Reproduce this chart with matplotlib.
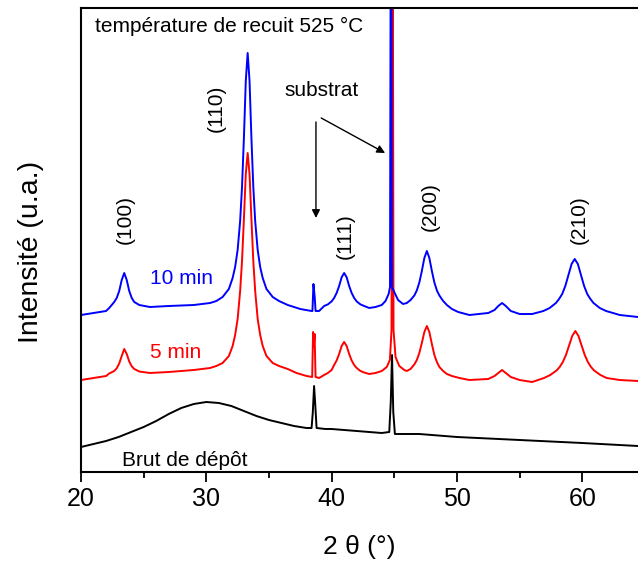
import matplotlib
matplotlib.use("Agg")
import matplotlib.pyplot as plt

plt.rcParams['font.family'] = ['Liberation Sans', 'DejaVu Sans']

# ---- data (2theta in degrees, intensity in arbitrary units) ----
x_brut = [20, 21, 22, 23, 24, 25, 26, 27, 28, 29, 30, 31, 32, 33, 34, 35, 36, 37, 38,
          38.4, 38.5, 38.6, 38.7, 38.8, 39.5, 40, 42, 44, 44.6, 44.72, 44.82, 44.92, 45.05,
          47, 50, 55, 60, 64.45]
y_brut = [25, 28, 31, 35, 40, 45, 51, 58, 64, 68, 70, 69, 66, 61, 56, 52, 49, 46, 44,
          44, 60, 86, 66, 44, 43, 43, 41, 39, 40, 70, 117, 60, 38,
          38, 35, 32, 29, 26]

x_5min = [20, 21, 22, 22.25, 22.65, 22.85, 23.05, 23.25, 23.45, 23.65, 23.85, 24.05, 24.25,
          24.65, 25.5, 27, 29, 30.3, 30.8, 31.3, 31.8, 32.1, 32.3, 32.5, 32.7, 32.85, 33.0,
          33.15, 33.3, 33.45, 33.6, 33.75, 33.9, 34.1, 34.3, 34.5, 34.8, 35.3, 35.8, 36.5,
          37.2, 38, 38.45, 38.52, 38.58, 38.64, 38.72, 39.0, 39.4, 39.7, 40.0, 40.2, 40.4,
          40.6, 40.8, 41.0, 41.2, 41.4, 41.6, 41.8, 42.0, 42.3, 42.6, 43.0, 43.5, 44.0,
          44.4, 44.65, 44.78, 44.86, 44.94, 45.1, 45.4, 45.8, 46.0, 46.3, 46.6, 46.8, 47.0,
          47.2, 47.4, 47.6, 47.8, 48.0, 48.2, 48.4, 48.6, 48.9, 49.2, 49.6, 50.2, 51, 52.5,
          53.0, 53.3, 53.6, 53.9, 54.3, 55, 56, 56.95, 57.45, 57.95, 58.2, 58.45, 58.7,
          58.95, 59.2, 59.45, 59.7, 59.95, 60.2, 60.45, 60.7, 60.95, 61.45, 61.95, 63, 64.45]
y_5min = [92, 94, 96, 98.5, 101, 103.7, 108.5, 116, 123, 118, 110.5, 105.7, 103,
          100.5, 99, 100, 102, 104, 106, 109, 116, 126, 137, 153, 181, 211, 253,
          298, 319, 298, 253, 211, 181, 153, 137, 126, 116, 109, 106, 103,
          99, 96, 95, 140, 125, 138, 95, 94, 97, 99, 102, 107, 111.5,
          118, 126, 130, 126, 118, 111.5, 107, 104, 101, 99.5, 98, 99, 101,
          105, 112, 142, 700, 142, 115, 106, 102, 101, 103, 107.6, 112, 119,
          129, 140, 146, 140, 128, 117, 110, 105, 101, 98, 96, 94, 92, 93,
          96, 99, 102, 99, 95, 92, 90, 94, 97, 101.5, 105, 110, 117,
          126.5, 136, 141, 136, 126.5, 117, 110, 105, 101.5, 97, 94, 92, 91]

x_10min = [20, 21, 22, 22.25, 22.65, 22.85, 23.05, 23.25, 23.45, 23.65, 23.85, 24.05, 24.25,
           24.65, 25.5, 27, 29, 30.3, 30.8, 31.3, 31.8, 32.1, 32.3, 32.5, 32.7, 32.85, 33.0,
           33.15, 33.3, 33.45, 33.6, 33.75, 33.9, 34.1, 34.3, 34.5, 34.8, 35.3, 35.8, 36.5,
           37.5, 38.4, 38.47, 38.55, 38.65, 38.72, 39.0, 39.4, 39.7, 40.0, 40.2, 40.4, 40.6,
           40.8, 41.0, 41.2, 41.4, 41.6, 41.8, 42.0, 42.3, 42.6, 43.0, 43.5, 44.0, 44.3,
           44.55, 44.66, 44.74, 44.82, 45.0, 45.3, 45.7, 46.0, 46.3, 46.6, 46.8, 47.0, 47.2,
           47.4, 47.6, 47.8, 48.0, 48.2, 48.4, 48.6, 48.9, 49.2, 49.6, 50.1, 51, 52.5, 53.0,
           53.3, 53.6, 53.9, 54.3, 55, 56, 56.9, 57.4, 57.9, 58.15, 58.4, 58.65, 58.9, 59.15,
           59.4, 59.65, 59.9, 60.15, 60.4, 60.65, 60.9, 61.4, 61.9, 63, 64.45]
y_10min = [157, 159, 161, 164, 170, 174, 181, 192, 199, 192, 181, 174, 170,
           167, 165, 166, 167, 169, 171, 175, 183, 194, 205, 222, 251, 285, 334,
           391, 419, 391, 334, 285, 251, 222, 205, 194, 183, 175, 171, 167,
           163, 161, 161, 188, 175, 161, 161, 166, 167.6, 170.6, 174, 179, 186,
           194.7, 199, 194.7, 186, 179, 174, 170.6, 167.6, 166, 164, 165, 167, 171,
           178, 185, 700, 185, 180, 172, 168, 169, 172, 176.5, 181.6, 189.5, 201,
           214, 221, 214, 201, 189.5, 181.6, 176.5, 171, 167, 163, 160, 157, 159, 162,
           166, 169, 166, 161, 158, 158, 161, 164, 169, 173, 178, 186, 197, 208,
           213, 208, 197, 186, 178, 173, 169, 164, 161, 157, 155]

series_labels = ["Brut de dépôt", "5 min", "10 min"]
peak_labels = ["(100)", "(110)", "(111)", "(200)", "(210)"]
peak_label_x = [23.5, 30.8, 41.1, 47.9, 59.8]
peak_label_y = [252, 364, 236, 265, 252]

# ---- figure ----
fig = plt.figure(figsize=(6.38, 5.63), dpi=100)
ax = fig.add_axes([81/638, (563-472)/563, (638-81)/638, (472-8)/563])

ax.plot(x_brut, y_brut, color='black', lw=1.4)
ax.plot(x_5min, y_5min, color='#ff0000', lw=1.4)
ax.plot(x_10min, y_10min, color='#0000ff', lw=1.4)

ax.set_xlim(20, 64.45)
ax.set_ylim(0, 464)

ax.set_xticks([20, 30, 40, 50, 60])
ax.set_xticks([25, 35, 45, 55], minor=True)
ax.set_yticks([])
ax.tick_params(axis='x', which='major', direction='out', length=7, width=1.3,
               labelsize=18, pad=4)
ax.tick_params(axis='x', which='minor', direction='out', length=4, width=1.3)
for s in ['left', 'top', 'bottom']:
    ax.spines[s].set_linewidth(1.5)
ax.spines['right'].set_visible(False)

ax.set_xlabel("2 θ (°)", fontsize=19, labelpad=17)
ax.set_ylabel("Intensité (u.a.)", fontsize=20.5)
ax.yaxis.set_label_coords(-0.066, 0.475)

# series labels
ax.text(25.5, 194, series_labels[2], color='#0000ff', fontsize=15, va='center', ha='left')
ax.text(25.5, 120, series_labels[1], color='#ff0000', fontsize=15, va='center', ha='left')
ax.text(23.3, 12, series_labels[0], color='black', fontsize=15, va='center', ha='left')

for lab, px, py in zip(peak_labels, peak_label_x, peak_label_y):
    ax.text(px, py, lab, rotation=90, fontsize=15, ha='center', va='center')

ax.text(21.1, 446, "température de recuit 525 °C", fontsize=15, ha='left', va='center')
ax.text(39.2, 382, "substrat", fontsize=15, ha='center', va='center')

ax.annotate("", xy=(38.75, 254), xytext=(38.75, 350),
            arrowprops=dict(arrowstyle='-|>', color='black', lw=1.0, mutation_scale=12,
                            shrinkA=0, shrinkB=0))
ax.annotate("", xy=(44.27, 319), xytext=(39.17, 354),
            arrowprops=dict(arrowstyle='-|>', color='black', lw=1.0, mutation_scale=12,
                            shrinkA=0, shrinkB=0))

fig.savefig("out.png", dpi=100)
